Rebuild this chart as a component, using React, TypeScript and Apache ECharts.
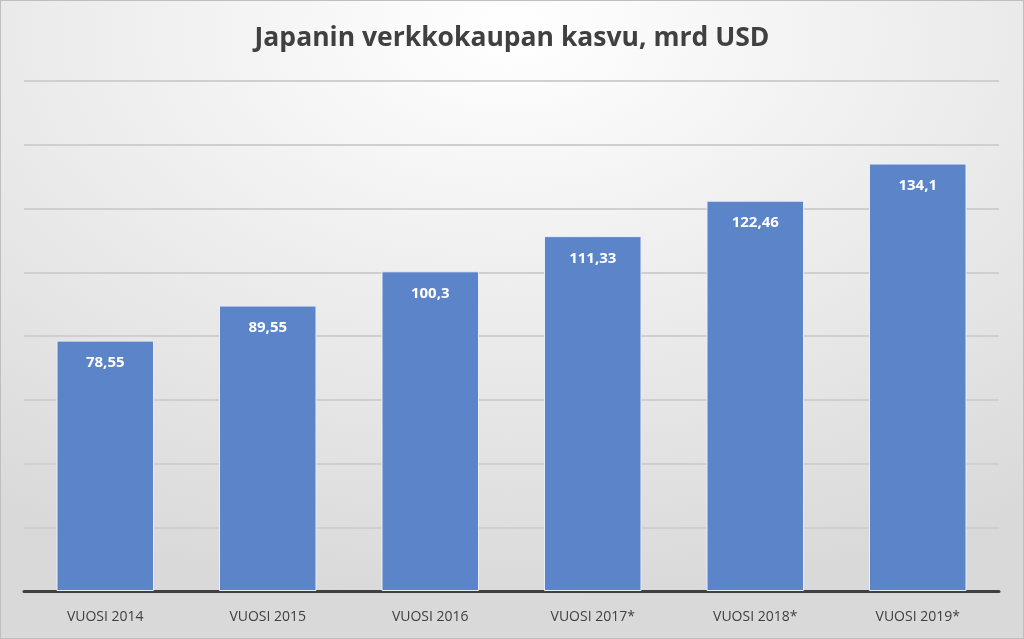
import React, { useEffect, useRef } from "react";
import * as echarts from "echarts";

const categories = ["VUOSI 2014", "VUOSI 2015", "VUOSI 2016", "VUOSI 2017*", "VUOSI 2018*", "VUOSI 2019*"];
const values = [78.55, 89.55, 100.3, 111.33, 122.46, 134.1];
const labelTexts = ["78,55", "89,55", "100,3", "111,33", "122,46", "134,1"];

export default function App() {
  const ref = useRef<HTMLDivElement>(null);
  useEffect(() => {
    const chart = echarts.init(ref.current!, null, { renderer: "svg" });
    chart.setOption({
      animation: false,
      backgroundColor: {
        type: "radial",
        x: 0.5,
        y: 0.05,
        r: 0.9,
        colorStops: [
          { offset: 0, color: "#ffffff" },
          { offset: 1, color: "#d9d9d9" },
        ],
      },
      title: {
        text: "Japanin verkkokaupan kasvu, mrd USD",
        left: "center",
        top: 16,
        textStyle: { fontFamily: "Open Sans", fontWeight: "bold", fontSize: 26.5, color: "#404040" },
      },
      grid: { left: 23, right: 24, top: 80, bottom: 47, containLabel: false },
      xAxis: {
        type: "category",
        data: categories,
        axisLine: { lineStyle: { color: "#404040", width: 3 } },
        axisTick: { show: false },
        axisLabel: { fontFamily: "Open Sans", fontSize: 14, color: "#404040", margin: 17 },
      },
      yAxis: {
        type: "value",
        min: 0,
        max: 160,
        interval: 20,
        axisLabel: { show: false },
        axisLine: { show: false },
        axisTick: { show: false },
        splitLine: { lineStyle: { color: "#cfcfcf", width: 2 } },
      },
      series: [
        {
          type: "bar",
          data: values,
          barCategoryGap: "40%",
          itemStyle: { color: "#5b84c9", borderColor: "#e9eef8", borderWidth: 1 },
          label: {
            show: true,
            position: "insideTop",
            distance: 13,
            formatter: (p: any) => labelTexts[p.dataIndex],
            fontFamily: "Open Sans",
            fontWeight: "bold",
            fontSize: 15,
            color: "#ffffff",
          },
        },
      ],
    });
    return () => chart.dispose();
  }, []);
  return (
    <div
      ref={ref}
      style={{ position: "fixed", left: 0, top: 0, width: 1024, height: 639, boxSizing: "border-box", border: "1px solid #bfbfbf" }}
    />
  );
}
